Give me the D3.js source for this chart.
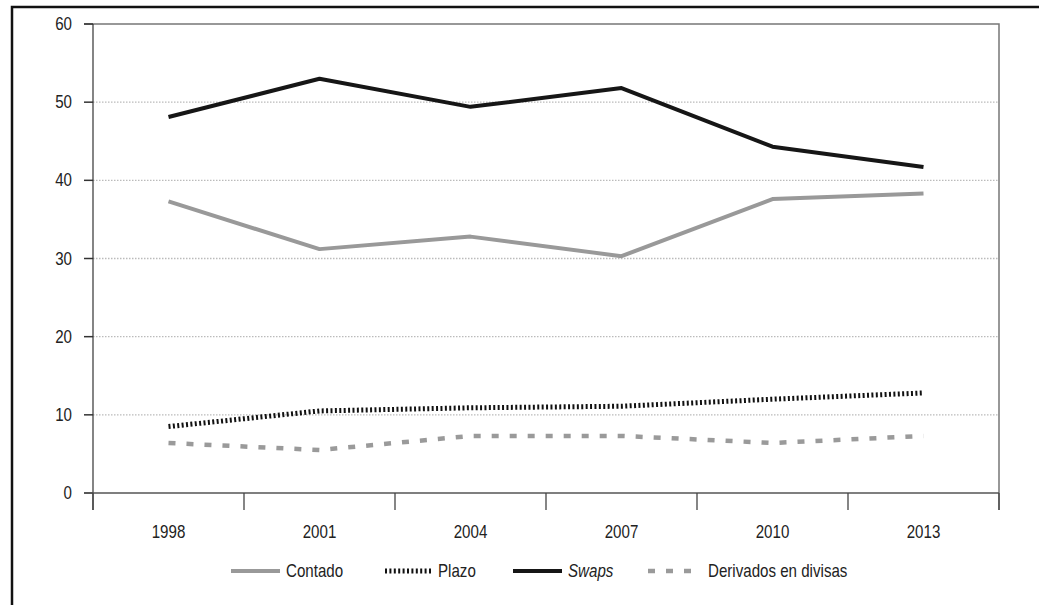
<!DOCTYPE html>
<html>
<head>
<meta charset="utf-8">
<script src="https://cdn.jsdelivr.net/npm/d3@7"></script>
<style>
  body { margin: 0; background: #fff; }
  text { font-family: "Liberation Sans", Arial, sans-serif; fill: #222; }
</style>
</head>
<body>
<svg id="chart" width="1039" height="605"></svg>
<script>
// data
var years = ["1998", "2001", "2004", "2007", "2010", "2013"];
var yTicks = [0, 10, 20, 30, 40, 50, 60];
var contado = [37.3, 31.2, 32.8, 30.3, 37.6, 38.3];
var plazo = [8.5, 10.5, 10.9, 11.1, 12.0, 12.8];
var swaps = [48.1, 53.0, 49.4, 51.8, 44.3, 41.7];
var derivados = [6.4, 5.5, 7.3, 7.3, 6.4, 7.3];

var series = [
    { name: "Contado", values: contado, color: "#999", width: 4, dash: null, italic: false },
    { name: "Plazo", values: plazo, color: "#111", width: 5, dash: "2,2.4", italic: false },
    { name: "Swaps", values: swaps, color: "#161616", width: 4, dash: null, italic: true },
    { name: "Derivados en divisas", values: derivados, color: "#9a9a9a", width: 4.5, dash: "7,11", italic: false }
];

// condensed look: squeeze text horizontally around its anchor point
var SQUEEZE = 0.84;
function place(tx, ty) {
    return "translate(" + tx + "," + ty + ") scale(" + SQUEEZE + ",1)";
}

var svg = d3.select("#chart");

var x = d3.scaleBand().domain(years).range([93, 999]);
var y = d3.scaleLinear().domain([0, 60]).range([493, 24]);

// outer frame (only top and left edges are visible)
svg.append("path")
    .attr("d", "M 12 605 L 12 7 L 1039 7")
    .attr("fill", "none")
    .attr("stroke", "#111")
    .attr("stroke-width", 2.5);

// grid lines
svg.append("g")
    .selectAll("line")
    .data(yTicks.filter(function (d) { return d > 0 && d < 60; }))
    .enter().append("line")
    .attr("x1", 93).attr("x2", 999)
    .attr("y1", function (d) { return y(d); })
    .attr("y2", function (d) { return y(d); })
    .attr("stroke", "#bbb")
    .attr("stroke-width", 1.3)
    .attr("stroke-dasharray", "1.5,1.5");

// top and right frame of plot
svg.append("path")
    .attr("d", "M 84 " + y(60) + " L 999 " + y(60) + " L 999 510")
    .attr("fill", "none")
    .attr("stroke", "#777")
    .attr("stroke-width", 1.5);

// y axis
var yAxis = svg.append("g");
yAxis.append("line")
    .attr("x1", 93).attr("x2", 93)
    .attr("y1", y(60)).attr("y2", 510)
    .attr("stroke", "#333").attr("stroke-width", 1.2);
yAxis.selectAll(".ytick")
    .data(yTicks)
    .enter().append("line")
    .attr("class", "ytick")
    .attr("x1", 84).attr("x2", 93)
    .attr("y1", function (d) { return y(d); })
    .attr("y2", function (d) { return y(d); })
    .attr("stroke", "#333").attr("stroke-width", 1.5);
yAxis.selectAll(".ylabel")
    .data(yTicks)
    .enter().append("text")
    .attr("class", "ylabel")
    .attr("transform", function (d) { return place(72, y(d) + 6); })
    .attr("text-anchor", "end")
    .attr("font-size", 18)
    .text(function (d) { return d; });

// x axis
var xAxis = svg.append("g");
xAxis.append("line")
    .attr("x1", 84).attr("x2", 999)
    .attr("y1", y(0)).attr("y2", y(0))
    .attr("stroke", "#555").attr("stroke-width", 1.6);
var edges = years.map(function (d) { return x(d); }).concat([x.range()[1]]);
xAxis.selectAll(".xtick")
    .data(edges)
    .enter().append("line")
    .attr("class", "xtick")
    .attr("x1", function (d) { return d; })
    .attr("x2", function (d) { return d; })
    .attr("y1", y(0)).attr("y2", 510)
    .attr("stroke", "#444").attr("stroke-width", 1.3);
xAxis.selectAll(".xlabel")
    .data(years)
    .enter().append("text")
    .attr("class", "xlabel")
    .attr("transform", function (d) { return place(x(d) + x.bandwidth() / 2, 538); })
    .attr("text-anchor", "middle")
    .attr("font-size", 18)
    .text(function (d) { return d; });

// series lines
var line = d3.line()
    .x(function (d, i) { return x(years[i]) + x.bandwidth() / 2; })
    .y(function (d) { return y(d); });

svg.append("g")
    .selectAll("path")
    .data(series)
    .enter().append("path")
    .attr("d", function (s) { return line(s.values); })
    .attr("fill", "none")
    .attr("stroke", function (s) { return s.color; })
    .attr("stroke-width", function (s) { return s.width; })
    .attr("stroke-dasharray", function (s) { return s.dash; })
    .attr("stroke-linejoin", "round");

// legend
var legendX = [231, 385, 513, 648];
var legendW = [49, 47, 49, 44];
var legend = svg.append("g")
    .selectAll("g")
    .data(series)
    .enter().append("g")
    .attr("transform", function (s, i) { return "translate(" + legendX[i] + ",571)"; });
legend.append("line")
    .attr("x1", 0)
    .attr("x2", function (s, i) { return legendW[i]; })
    .attr("y1", 0).attr("y2", 0)
    .attr("stroke", function (s) { return s.color; })
    .attr("stroke-width", function (s) { return s.width; })
    .attr("stroke-dasharray", function (s) { return s.dash; });
legend.append("text")
    .attr("transform", function (s, i) { return place(legendW[i] + (i == 3 ? 16 : 6), 6); })
    .attr("font-size", 18)
    .attr("font-style", function (s) { return s.italic ? "italic" : "normal"; })
    .text(function (s) { return s.name; });
</script>
</body>
</html>
